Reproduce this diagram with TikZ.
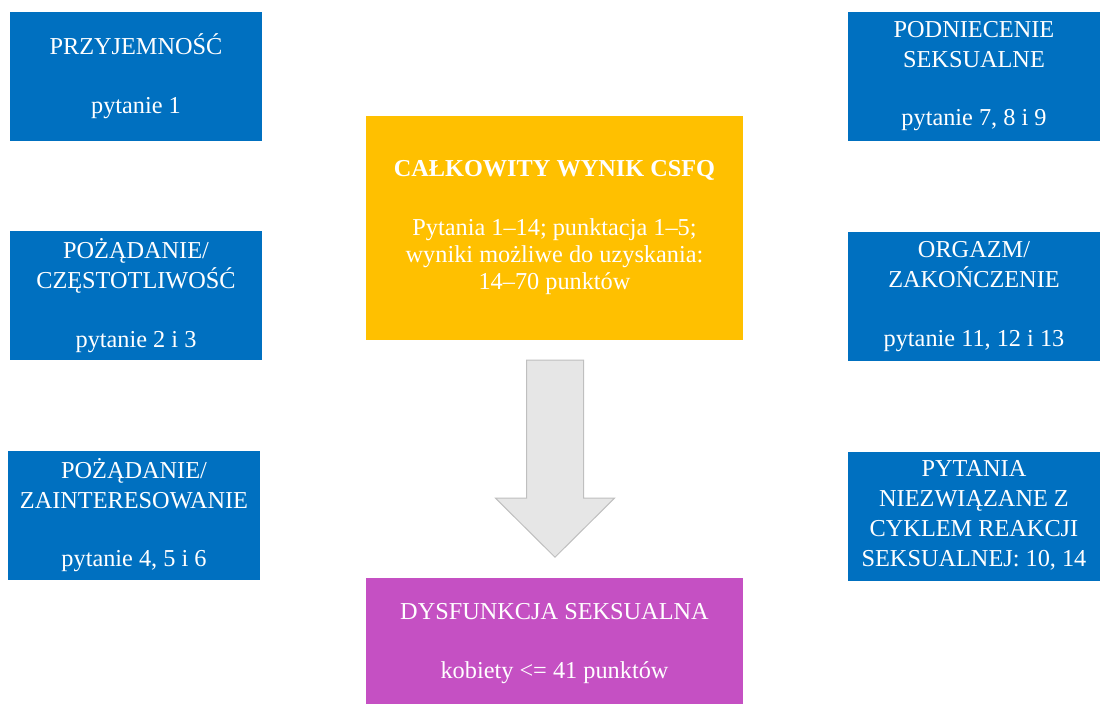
\documentclass[tikz,border=0pt]{standalone}
\usepackage{fontspec}
\setmainfont{Liberation Serif}
\usetikzlibrary{
	positioning,
	calc
}
\definecolor{boxblue}{HTML}{0070C0}
\definecolor{boxyellow}{HTML}{FFC000}
\definecolor{boxmagenta}{HTML}{C550C3}
\definecolor{arrowgray}{HTML}{E6E6E6}
\definecolor{arrowline}{HTML}{BFBFBF}

\begin{document}
\begin{tikzpicture}[
				x=1pt, y=-1pt,
				stage/.style={
					rectangle, text=white, inner sep=0pt,
					minimum width=252pt, minimum height=129pt,
					align=center, font=\fontsize{24.3}{30}\selectfont,
					execute at begin node={\rule{0pt}{24pt}},
					execute at end node={\rule[-6pt]{0pt}{6pt}}
				},
				bluebox/.style={
					stage, fill=boxblue
				},
				scorebox/.style={
					stage, fill=boxyellow,
					minimum width=377pt, minimum height=224pt,
					font=\fontsize{24.3}{27}\selectfont
				},
				resultbox/.style={
					stage, fill=boxmagenta,
					minimum width=377pt, minimum height=132pt
				},
				blockarrow/.style={fill=arrowgray, draw=arrowline, line width=1pt}
				]
				
				\useasboundingbox (0,0) rectangle (1101,704);
				
				% left column
				\node[bluebox] (pleasure) at (136,76.5) {PRZYJEMNOŚĆ\\[29pt]pytanie 1};
				
				\node[bluebox, below=90pt of pleasure] (frequency) {POŻĄDANIE/\\CZĘSTOTLIWOŚĆ\\[28.5pt]pytanie 2 i 3};
				
				\node[bluebox, below=90pt of frequency, xshift=-2pt] (interest) {POŻĄDANIE/\\ZAINTERESOWANIE\\[28.5pt]pytanie 4, 5 i 6};
				
				% right column
				\node[bluebox] (arousal) at (974,76.5) {PODNIECENIE\\SEKSUALNE\\[28.5pt]pytanie 7, 8 i 9};
				
				\node[bluebox, below=91pt of arousal] (orgasm) {ORGAZM/\\ZAKOŃCZENIE\\[28.5pt]pytanie 11, 12 i 13};
				
				\node[bluebox, below=90pt of orgasm] (other) {PYTANIA\\NIEZWIĄZANE Z\\CYKLEM REAKCJI\\SEKSUALNEJ: 10, 14};
				
				% total score
				\node[scorebox] (total) at (554.5,228) {\textbf{CAŁKOWITY WYNIK CSFQ}\\[32pt]Pytania 1–14; punktacja 1–5;\\wyniki możliwe do uzyskania:\\14–70 punktów};
				
				% result
				\node[resultbox, below=238pt of total] (dysfunction) {DYSFUNKCJA SEKSUALNA\\[29pt]kobiety <= 41 punktów};
				
				% block arrow between them
				\coordinate (top) at ($(total.south)+(0.5,20)$);
				\coordinate (tip) at ($(dysfunction.north)+(0.5,-21)$);
				\draw[blockarrow] ($(top)+(-28.5,0)$) -- ($(top)+(28.5,0)$)
					-- ($(tip)+(28.5,-59)$) -- ($(tip)+(59.5,-59)$) -- (tip)
					-- ($(tip)+(-59.5,-59)$) -- ($(tip)+(-28.5,-59)$) -- cycle;
			\end{tikzpicture}
\end{document}
